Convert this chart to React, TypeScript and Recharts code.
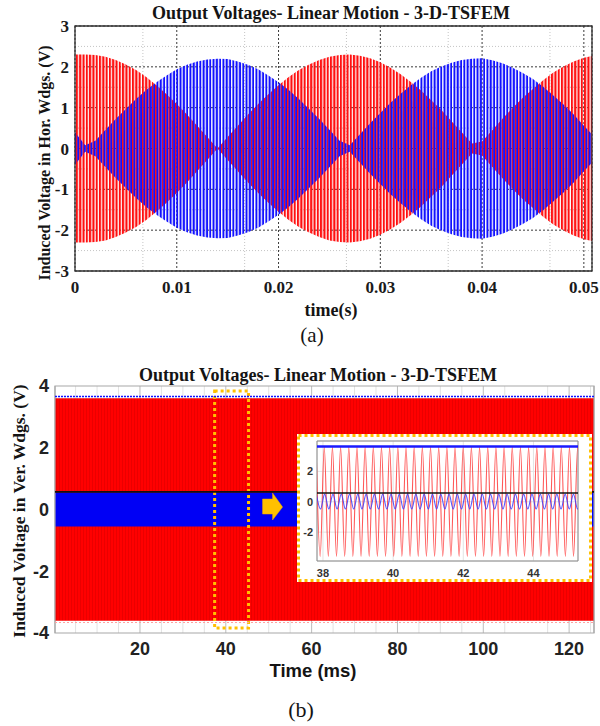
import React from 'react';
import {
  ComposedChart,
  LineChart,
  Area,
  Line,
  XAxis,
  YAxis,
  ReferenceLine,
  ReferenceArea,
  ReferenceDot,
  CartesianGrid,
} from 'recharts';

// ---------- (a) Horizontal windings: envelope of the two high-frequency voltages ----------
const topTimes = [
  0, 0.001, 0.002, 0.003, 0.004, 0.005, 0.006, 0.007, 0.008, 0.009, 0.01, 0.011, 0.012,
  0.013, 0.014, 0.015, 0.016, 0.017, 0.018, 0.019, 0.02, 0.021, 0.022, 0.023, 0.024, 0.025,
  0.026, 0.027, 0.028, 0.029, 0.03, 0.031, 0.032, 0.033, 0.034, 0.035, 0.036, 0.037, 0.038,
  0.039, 0.04, 0.041, 0.042, 0.043, 0.044, 0.045, 0.046, 0.047, 0.048, 0.049, 0.05, 0.051,
];
const topRedEnv = [
  2.3, 2.3, 2.29, 2.25, 2.17, 2.06, 1.92, 1.75, 1.55, 1.33, 1.09, 0.83, 0.56, 0.28, 0.0,
  0.28, 0.56, 0.83, 1.09, 1.33, 1.55, 1.75, 1.92, 2.06, 2.17, 2.25, 2.29, 2.3, 2.27, 2.21,
  2.11, 1.98, 1.82, 1.63, 1.42, 1.18, 0.94, 0.67, 0.4, 0.12, 0.17, 0.45, 0.73, 0.99, 1.24,
  1.46, 1.67, 1.86, 2.01, 2.13, 2.22, 2.28,
];
const topBlueEnv = [
  0.4, 0.08, 0.19, 0.46, 0.72, 0.97, 1.21, 1.43, 1.62, 1.79, 1.94, 2.05, 2.13, 2.18, 2.2,
  2.19, 2.13, 2.05, 1.94, 1.79, 1.62, 1.43, 1.21, 0.97, 0.72, 0.46, 0.19, 0.08, 0.35, 0.62,
  0.87, 1.12, 1.34, 1.55, 1.73, 1.89, 2.01, 2.1, 2.17, 2.2, 2.21, 2.16, 2.09, 1.98, 1.85,
  1.7, 1.51, 1.3, 1.08, 0.83, 0.56, 0.3,
];
const topXTicks = [0, 0.01, 0.02, 0.03, 0.04, 0.05];
const topYTicks = [-3, -2, -1, 0, 1, 2, 3];
const topMinorX = [0.00333, 0.00667, 0.01333, 0.01667, 0.02333, 0.02667, 0.03333, 0.03667, 0.04333, 0.04667];
const topMinorY = [-2.5, -1.5, -0.5, 0.5, 1.5, 2.5];

// ---------- (b) Vertical windings ----------
const bottomTimes = [0.2, 20, 40, 60, 80, 100, 120, 125.8];
const bottomRedAmp = [3.6, 3.6, 3.6, 3.6, 3.6, 3.6, 3.6, 3.6];
const bottomBlueAmp = [0.55, 0.55, 0.55, 0.55, 0.55, 0.55, 0.55, 0.55];
const bottomXTicks = [20, 40, 60, 80, 100, 120];
const bottomYTicks = [-4, -2, 0, 2, 4];
const bottomMinorX = [5, 10, 15, 25, 30, 35, 45, 50, 55, 65, 70, 75, 85, 90, 95, 105, 110, 115, 125];
const bottomTopTrace = 3.66;
const bottomBottomTrace = -3.66;
const bottomBlackTrace = 0.57;
const zoomWindow = { x1: 37.4, x2: 45.3, y1: -3.84, y2: 3.84 };
const arrowAt = { x: 50.9, y: 0.08 };

// ---------- inset (zoom of 38..45 ms) ----------
const insetRedTimes = [
  37.804, 37.92, 38.037, 38.153, 38.27, 38.386, 38.503, 38.619, 38.736, 38.852, 38.969,
  39.085, 39.202, 39.318, 39.435, 39.551, 39.668, 39.784, 39.901, 40.017, 40.134, 40.25,
  40.367, 40.483, 40.6, 40.716, 40.833, 40.949, 41.066, 41.182, 41.299, 41.415, 41.532,
  41.648, 41.765, 41.881, 41.998, 42.114, 42.231, 42.347, 42.464, 42.58, 42.697, 42.813,
  42.93, 43.046, 43.163, 43.279, 43.396, 43.512, 43.629, 43.745, 43.862, 43.978, 44.095,
  44.211, 44.328, 44.444, 44.561, 44.677, 44.794, 44.91, 45.027, 45.143, 45.26, 45.376,
];
const insetRedValues = [
  3.6, -3.6, 3.6, -3.6, 3.6, -3.6, 3.6, -3.6, 3.6, -3.6, 3.6, -3.6, 3.6, -3.6, 3.6, -3.6,
  3.6, -3.6, 3.6, -3.6, 3.6, -3.6, 3.6, -3.6, 3.6, -3.6, 3.6, -3.6, 3.6, -3.6, 3.6, -3.6,
  3.6, -3.6, 3.6, -3.6, 3.6, -3.6, 3.6, -3.6, 3.6, -3.6, 3.6, -3.6, 3.6, -3.6, 3.6, -3.6,
  3.6, -3.6, 3.6, -3.6, 3.6, -3.6, 3.6, -3.6, 3.6, -3.6, 3.6, -3.6, 3.6, -3.6, 3.6, -3.6,
  3.6, -3.6,
];
const insetBlueTimes = [
  37.812, 37.93, 38.048, 38.167, 38.285, 38.403, 38.521, 38.639, 38.758, 38.876, 38.994,
  39.112, 39.23, 39.349, 39.467, 39.585, 39.703, 39.821, 39.94, 40.058, 40.176, 40.294,
  40.412, 40.531, 40.649, 40.767, 40.885, 41.003, 41.122, 41.24, 41.358, 41.476, 41.594,
  41.713, 41.831, 41.949, 42.067, 42.185, 42.304, 42.422, 42.54, 42.658, 42.776, 42.895,
  43.013, 43.131, 43.249, 43.367, 43.486, 43.604, 43.722, 43.84, 43.958, 44.077, 44.195,
  44.313, 44.431, 44.549, 44.668, 44.786, 44.904, 45.022, 45.14, 45.259, 45.377,
];
const insetBlueValues = [
  0.5, -0.48, 0.5, -0.48, 0.5, -0.48, 0.5, -0.48, 0.5, -0.48, 0.5, -0.48, 0.5, -0.48, 0.5,
  -0.48, 0.5, -0.48, 0.5, -0.48, 0.5, -0.48, 0.5, -0.48, 0.5, -0.48, 0.5, -0.48, 0.5, -0.48,
  0.5, -0.48, 0.5, -0.48, 0.5, -0.48, 0.5, -0.48, 0.5, -0.48, 0.5, -0.48, 0.5, -0.48, 0.5,
  -0.48, 0.5, -0.48, 0.5, -0.48, 0.5, -0.48, 0.5, -0.48, 0.5, -0.48, 0.5, -0.48, 0.5, -0.48,
  0.5, -0.48, 0.5, -0.48, 0.5,
];
const insetXTicks = [38, 40, 42, 44];
const insetYTicks = [-2, 0, 2];
const insetTopTrace = 3.64;
const insetBlackTrace = 0.58;

const topData = topTimes.map((t, i) => ({
  t,
  red: [-topRedEnv[i], topRedEnv[i]],
  blue: [-topBlueEnv[i], topBlueEnv[i]],
}));
const bottomData = bottomTimes.map((t, i) => ({
  t,
  red: [-bottomRedAmp[i], bottomRedAmp[i]],
  blue: [-bottomBlueAmp[i], bottomBlueAmp[i]],
}));
const insetData = [
  ...insetRedTimes.map((t, i) => ({ t, red: insetRedValues[i] })),
  ...insetBlueTimes.map((t, i) => ({ t, blue: insetBlueValues[i] })),
].sort((a, b) => a.t - b.t);

const SERIF = "'Liberation Serif', 'Times New Roman', serif";
const SANS = "'Liberation Sans', Arial, sans-serif";

const Txt = ({ x, y, size, family, bold = true, rotate = 0, children }: any) => (
  <div
    style={{
      position: 'absolute',
      left: x,
      top: y,
      transform: `translate(-50%, -50%) rotate(${rotate}deg)`,
      fontFamily: family,
      fontSize: size,
      fontWeight: bold ? 700 : 400,
      whiteSpace: 'nowrap',
      lineHeight: 1,
      color: '#141414',
    }}
  >
    {children}
  </div>
);

const ArrowShape = (props: any) => {
  const { cx, cy } = props;
  const pts = [
    [cx - 10, cy - 8],
    [cx, cy - 8],
    [cx, cy - 14],
    [cx + 10, cy],
    [cx, cy + 13],
    [cx, cy + 7],
    [cx - 10, cy + 7],
  ]
    .map((p) => p.join(','))
    .join(' ');
  return <polygon points={pts} fill="#FFC000" stroke="#F0A800" strokeWidth={0.5} />;
};

export default function App() {
  return (
    <div style={{ position: 'absolute', left: 0, top: 0, width: 600, height: 726, background: '#fff' }}>
      <svg width="0" height="0" style={{ position: 'absolute' }}>
        <defs>
          <pattern id="redStripes" patternUnits="userSpaceOnUse" width="3.3" height="10">
            <rect x="0" y="0" width="2.1" height="10" fill="#ff1010" />
          </pattern>
          <pattern id="blueStripes" patternUnits="userSpaceOnUse" width="3.3" height="10">
            <rect x="1.3" y="0" width="2.6" height="10" fill="#1212ff" />
          </pattern>
          <pattern id="redDense" patternUnits="userSpaceOnUse" width="3" height="10">
            <rect x="0" y="0" width="3" height="10" fill="#ff0000" />
            <rect x="2" y="0" width="1" height="10" fill="#ea0000" />
          </pattern>
        </defs>
      </svg>

      {/* ---------------- (a) ---------------- */}
      <div style={{ position: 'absolute', left: 0, top: 0 }}>
        <ComposedChart width={600} height={300} data={topData} margin={{ top: 26, right: 8, bottom: 0, left: 0 }}>
          <XAxis
            type="number"
            dataKey="t"
            domain={[0, 0.0508]}
            allowDataOverflow
            ticks={topXTicks}
            axisLine={false}
            tickLine={false}
            tickSize={0}
            tickMargin={10}
            height={29}
            tick={{ fontFamily: SERIF, fontWeight: 700, fontSize: 17, fill: '#1a1a1a' }}
          />
          <XAxis
            xAxisId="minor"
            type="number"
            dataKey="t"
            domain={[0, 0.0508]}
            allowDataOverflow
            ticks={topMinorX}
            hide
          />
          <YAxis
            type="number"
            domain={[-3, 3]}
            allowDataOverflow
            ticks={topYTicks}
            axisLine={false}
            tickLine={false}
            tickSize={0}
            tickMargin={6}
            width={75}
            tick={{ fontFamily: SERIF, fontWeight: 700, fontSize: 17, fill: '#1a1a1a' }}
          />
          <YAxis yAxisId="minor" type="number" domain={[-3, 3]} allowDataOverflow ticks={topMinorY} hide />
          <CartesianGrid xAxisId="minor" yAxisId="minor" stroke="#c4c4c4" strokeDasharray="1 2" />
          <CartesianGrid stroke="#3a3a3a" strokeDasharray="2 2" />
          <Area
            type="linear"
            dataKey="red"
            stroke="none"
            fill="url(#redStripes)"
            fillOpacity={1}
            isAnimationActive={false}
          />
          <Area
            type="linear"
            dataKey="blue"
            stroke="none"
            fill="url(#blueStripes)"
            fillOpacity={1}
            isAnimationActive={false}
          />
          <ReferenceArea
            x1={0}
            x2={0.0508}
            y1={-3}
            y2={3}
            fill="none"
            fillOpacity={0}
            stroke="#333"
            strokeWidth={1.3}
            ifOverflow="visible"
          />
        </ComposedChart>
      </div>
      <Txt x={331} y={13} size={18} family={SERIF}>
        Output Voltages- Linear Motion - 3-D-TSFEM
      </Txt>
      <Txt x={45} y={163} size={16} family={SERIF} rotate={-90}>
        Induced Voltage in Hor. Wdgs. (V)
      </Txt>
      <Txt x={331} y={310} size={18} family={SERIF}>
        time(s)
      </Txt>
      <Txt x={312} y={335} size={21} family={SERIF} bold={false}>
        (a)
      </Txt>

      {/* ---------------- (b) ---------------- */}
      <div style={{ position: 'absolute', left: 0, top: 355 }}>
        <ComposedChart width={600} height={330} data={bottomData} margin={{ top: 31, right: 6, bottom: 0, left: 0 }}>
          <XAxis
            type="number"
            dataKey="t"
            domain={[0.2, 125.8]}
            allowDataOverflow
            ticks={bottomXTicks}
            axisLine={false}
            tickLine={false}
            tickSize={0}
            tickMargin={9}
            height={52}
            tick={{ fontFamily: SANS, fontWeight: 700, fontSize: 18, fill: '#222' }}
          />
          <XAxis
            xAxisId="minor"
            type="number"
            dataKey="t"
            domain={[0.2, 125.8]}
            allowDataOverflow
            ticks={bottomMinorX}
            hide
          />
          <YAxis
            type="number"
            domain={[-4, 4]}
            allowDataOverflow
            ticks={bottomYTicks}
            axisLine={false}
            tickLine={false}
            tickSize={0}
            tickMargin={6}
            width={55}
            tick={{ fontFamily: SANS, fontWeight: 700, fontSize: 18, fill: '#222' }}
          />
          <CartesianGrid xAxisId="minor" horizontal={false} stroke="#e2e2e2" />
          <CartesianGrid horizontal={false} stroke="#bcbcbc" />
          <Area
            type="linear"
            dataKey="red"
            stroke="none"
            fill="url(#redDense)"
            fillOpacity={1}
            isAnimationActive={false}
          />
          <Area type="linear" dataKey="blue" stroke="none" fill="#0000f5" fillOpacity={1} isAnimationActive={false} />
          <ReferenceLine y={bottomTopTrace} stroke="#1010ff" strokeWidth={1.6} strokeDasharray="2 1" />
          <ReferenceLine y={bottomBottomTrace} stroke="#ffa0a0" strokeWidth={1.2} strokeDasharray="2 2" />
          <ReferenceLine y={bottomBlackTrace} stroke="#101010" strokeWidth={1.6} />
          <ReferenceArea
            x1={zoomWindow.x1}
            x2={zoomWindow.x2}
            y1={zoomWindow.y1}
            y2={zoomWindow.y2}
            fill="none"
            fillOpacity={0}
            stroke="#FFC000"
            strokeWidth={3}
            strokeDasharray="3 3"
            ifOverflow="visible"
          />
          <ReferenceDot x={arrowAt.x} y={arrowAt.y} r={1} shape={ArrowShape} ifOverflow="visible" />
          <ReferenceArea
            x1={0.2}
            x2={125.8}
            y1={-4}
            y2={4}
            fill="none"
            fillOpacity={0}
            stroke="#a8a8a8"
            strokeWidth={1.2}
            ifOverflow="visible"
          />
        </ComposedChart>
      </div>

      {/* inset */}
      <div style={{ position: 'absolute', left: 297, top: 434, width: 295, height: 148, background: '#fff' }} />
      <div style={{ position: 'absolute', left: 300, top: 437 }}>
        <LineChart width={289} height={142} data={insetData} margin={{ top: 4, right: 11, bottom: 0, left: 0 }}>
          <CartesianGrid stroke="#e3e3e3" strokeWidth={1} />
          <XAxis
            type="number"
            dataKey="t"
            domain={[37.83, 45.27]}
            allowDataOverflow
            ticks={insetXTicks}
            axisLine={false}
            tickLine={false}
            tickSize={0}
            tickMargin={8}
            height={18}
            tick={{ fontFamily: SANS, fontWeight: 700, fontSize: 11, fill: '#333' }}
          />
          <YAxis
            type="number"
            domain={[-3.9, 4]}
            allowDataOverflow
            ticks={insetYTicks}
            axisLine={false}
            tickLine={false}
            tickSize={0}
            tickMargin={4}
            width={17}
            tick={{ fontFamily: SANS, fontWeight: 700, fontSize: 11, fill: '#333' }}
          />
          <Line
            type="monotone"
            dataKey="red"
            stroke="#ff3b3b"
            strokeOpacity={0.85}
            strokeWidth={1.1}
            dot={false}
            connectNulls
            isAnimationActive={false}
          />
          <Line
            type="monotone"
            dataKey="blue"
            stroke="#3c3cff"
            strokeOpacity={0.85}
            strokeWidth={1.1}
            dot={false}
            connectNulls
            isAnimationActive={false}
          />
          <ReferenceLine y={insetTopTrace} stroke="#1a1aff" strokeWidth={2.4} />
          <ReferenceLine y={insetBlackTrace} stroke="#111" strokeWidth={1.4} />
          <ReferenceArea
            x1={37.83}
            x2={45.27}
            y1={-3.9}
            y2={4}
            fill="none"
            fillOpacity={0}
            stroke="#8a8a8a"
            strokeWidth={1}
            ifOverflow="visible"
          />
        </LineChart>
      </div>
      <svg width={600} height={726} style={{ position: 'absolute', left: 0, top: 0, pointerEvents: 'none' }}>
        <rect
          x={298.5}
          y={435.5}
          width={292}
          height={145}
          fill="none"
          stroke="#FFC000"
          strokeWidth={3}
          strokeDasharray="3 3"
        />
      </svg>

      <Txt x={318} y={375} size={18} family={SERIF}>
        Output Voltages- Linear Motion - 3-D-TSFEM
      </Txt>
      <Txt x={20} y={511} size={17.5} family={SERIF} rotate={-90}>
        Induced Voltage in Ver. Wdgs. (V)
      </Txt>
      <Txt x={313} y={671} size={18.5} family={SANS}>
        Time (ms)
      </Txt>
      <Txt x={301} y={710} size={22} family={SERIF} bold={false}>
        (b)
      </Txt>
    </div>
  );
}
